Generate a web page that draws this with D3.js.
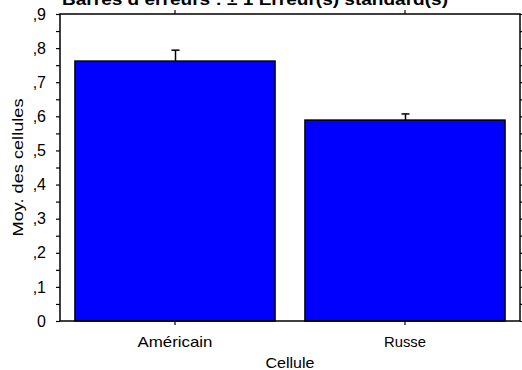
<!DOCTYPE html>
<html>
<head>
<meta charset="utf-8">
<script src="https://cdn.jsdelivr.net/npm/d3@7"></script>
<style>
  body { margin: 0; background: #fff; }
  text { font-family: "Liberation Sans", Arial, sans-serif; }
</style>
</head>
<body>
<svg id="viz"></svg>
<script>
const categories = ['Américain', 'Russe'];
const means = [0.762, 0.589];
const stdErrors = [0.032, 0.018];
const yTicks = [0, 0.1, 0.2, 0.3, 0.4, 0.5, 0.6, 0.7, 0.8, 0.9];
const yMinorTicks = [0.05, 0.15, 0.25, 0.35, 0.45, 0.55, 0.65, 0.75, 0.85];

const width = 522, height = 370;
const margin = { top: 14, right: 2, bottom: 49, left: 60 };
const w = width - margin.left - margin.right;
const h = height - margin.top - margin.bottom;

const svg = d3.select('#viz').attr('width', width).attr('height', height);
const g = svg.append('g').attr('transform', 'translate(' + margin.left + ',' + margin.top + ')');

// SCALES
const x = d3.scaleBand().domain(categories).range([0, w]).paddingInner(0.13).paddingOuter(0.065);
const xc = d3.scaleBand().domain(categories).range([0, w]);
const y = d3.scaleLinear().domain([0, 0.9]).range([h, 0]);

const fmt = (d) => (d === 0 ? '0' : d3.format('.1f')(d).replace('0.', ','));

// BARS
g.append('g')
  .selectAll('rect')
  .data(categories)
  .enter()
  .append('rect')
  .attr('x', (d) => x(d))
  .attr('y', (d, i) => y(means[i]))
  .attr('width', x.bandwidth())
  .attr('height', (d, i) => h - y(means[i]))
  .style('fill', '#0000ff')
  .style('stroke', '#000')
  .style('stroke-width', 1.5);

// ERROR BARS (upper half only, lower half is hidden by the bar)
const err = g.append('g').style('stroke', '#000').style('stroke-width', 1.5);
categories.forEach((c, i) => {
  const cx = Math.round(x(c) + x.bandwidth() / 2) + 0.5;
  err.append('line').attr('x1', cx).attr('x2', cx).attr('y1', y(means[i])).attr('y2', y(means[i] + stdErrors[i]));
  err.append('line').attr('x1', cx - 4).attr('x2', cx + 4).attr('y1', y(means[i] + stdErrors[i])).attr('y2', y(means[i] + stdErrors[i]));
});

// AXES
const allY = yTicks.concat(yMinorTicks);
const left = g.append('g')
  .call(d3.axisLeft(y).tickValues(yTicks).tickFormat(fmt).tickSize(4).tickPadding(10))
  .style('font-size', '16px');
left.append('g').call(d3.axisLeft(y).tickValues(yMinorTicks).tickFormat('').tickSize(4));

g.append('g')
  .attr('transform', 'translate(' + w + ',0)')
  .call(d3.axisRight(y).tickValues(allY).tickFormat('').tickSize(4));

const bottom = g.append('g')
  .attr('transform', 'translate(0,' + h + ')')
  .call(d3.axisBottom(xc).tickSize(4).tickPadding(12))
  .style('font-size', '14.5px');
bottom.selectAll('.tick text')
  .attr('textLength', (d) => (d === 'Russe' ? 42 : 75))
  .attr('lengthAdjust', 'spacingAndGlyphs');

g.append('g')
  .call(d3.axisTop(xc).tickFormat('').tickSize(4));

g.selectAll('.domain').attr('d', null);
g.selectAll('.tick line').style('stroke', '#000').style('stroke-width', 1.2);
g.selectAll('.tick text').style('fill', '#000').style('font-family', '"Liberation Sans", Arial, sans-serif');

// FRAME
g.append('rect')
  .attr('x', 0).attr('y', 0).attr('width', w).attr('height', h)
  .style('fill', 'none').style('stroke', '#000').style('stroke-width', 1.5);

// LABELS
svg.append('text')
  .attr('x', 62)
  .attr('y', 5)
  .attr('textLength', 386)
  .attr('lengthAdjust', 'spacingAndGlyphs')
  .style('font-size', '17px')
  .style('font-weight', 'bold')
  .text('Barres d\u2019erreurs : \u00b1 1 Erreur(s) standard(s)');

svg.append('text')
  .attr('x', margin.left + w / 2)
  .attr('y', 368)
  .attr('text-anchor', 'middle')
  .attr('textLength', 49)
  .attr('lengthAdjust', 'spacingAndGlyphs')
  .style('font-size', '15px')
  .text('Cellule');

svg.append('text')
  .attr('transform', 'rotate(-90)')
  .attr('x', -(margin.top + h / 2))
  .attr('y', 23)
  .attr('text-anchor', 'middle')
  .attr('textLength', 138)
  .attr('lengthAdjust', 'spacingAndGlyphs')
  .style('font-size', '15px')
  .text('Moy. des cellules');
</script>
</body>
</html>
